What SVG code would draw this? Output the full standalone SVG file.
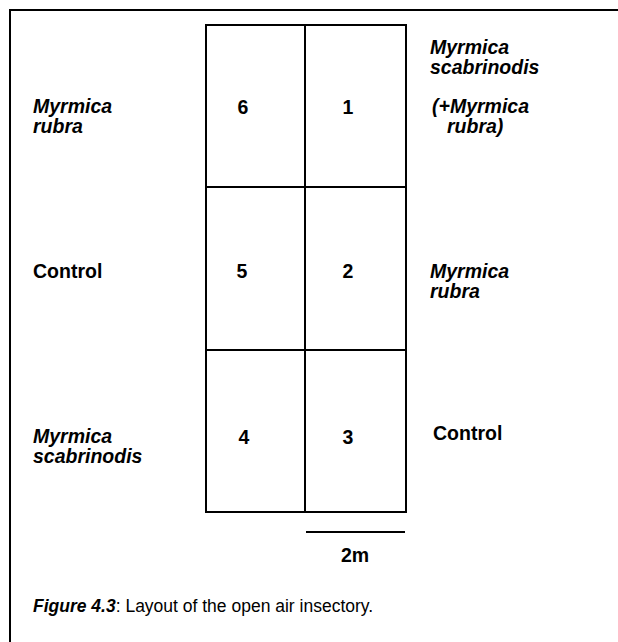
<svg xmlns="http://www.w3.org/2000/svg" width="618" height="642" viewBox="0 0 618 642">
<style>
.t{font-family:"Liberation Sans",Arial,sans-serif;font-weight:bold;font-size:19.5px;fill:#000}
.i{font-style:italic}
.n{text-anchor:middle}
.ln{stroke:#000;stroke-width:2;fill:none}
.cap{font-family:"Liberation Sans",Arial,sans-serif;font-size:17.5px;fill:#000}
</style>
<rect width="618" height="642" fill="#fff"/>
<g id="frame"><path class="ln" d="M10,642 V10 H618"/></g>
<g id="grid">
<rect class="ln" x="206" y="25" width="200" height="487"/>
<line class="ln" x1="305" y1="25" x2="305" y2="512"/>
<line class="ln" x1="206" y1="187" x2="406" y2="187"/>
<line class="ln" x1="206" y1="350" x2="406" y2="350"/>
</g>
<g id="plot6"><text class="t n" x="243" y="114">6</text></g>
<g id="plot1"><text class="t n" x="348" y="114">1</text></g>
<g id="plot5"><text class="t n" x="242" y="278">5</text></g>
<g id="plot2"><text class="t n" x="348" y="278">2</text></g>
<g id="plot4"><text class="t n" x="244" y="444">4</text></g>
<g id="plot3"><text class="t n" x="348" y="444">3</text></g>
<g id="label6"><text class="t i" x="33" y="113">Myrmica<tspan x="33" dy="20">rubra</tspan></text></g>
<g id="label1"><text class="t i" x="430" y="54">Myrmica<tspan x="430" dy="20">scabrinodis</tspan></text><text class="t i" x="432" y="113">(+Myrmica<tspan x="447" dy="20">rubra)</tspan></text></g>
<g id="label5"><text class="t" x="33" y="278">Control</text></g>
<g id="label2"><text class="t i" x="430" y="278">Myrmica<tspan x="430" dy="20">rubra</tspan></text></g>
<g id="label4"><text class="t i" x="33" y="443">Myrmica<tspan x="33" dy="20">scabrinodis</tspan></text></g>
<g id="label3"><text class="t" x="433" y="440">Control</text></g>
<g id="scale"><line class="ln" x1="306" y1="532" x2="405" y2="532"/><text class="t n" x="355" y="562">2m</text></g>
<g id="caption"><text class="cap" x="33" y="612"><tspan font-weight="bold" font-style="italic">Figure 4.3</tspan>: Layout of the open air insectory.</text></g>
</svg>
